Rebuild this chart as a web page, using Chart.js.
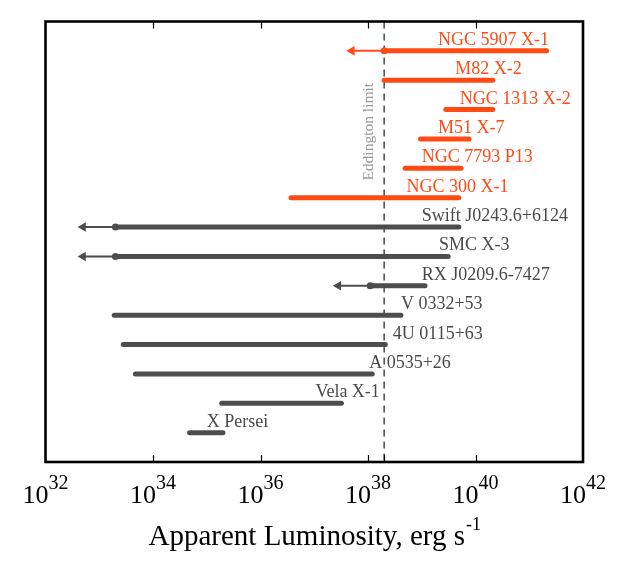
<!DOCTYPE html>
<html><head><meta charset="utf-8">
<script src="https://cdn.jsdelivr.net/npm/chart.js@4.4.1/dist/chart.umd.min.js"></script>
<style>html,body{margin:0;padding:0;background:#fff}#wrap{width:627px;height:574px}</style>
</head><body><div id="wrap"><canvas id="c" width="627" height="574"></canvas></div>
<script>
// ---- data ----
const sources = ['NGC 5907 X-1','M82 X-2','NGC 1313 X-2','M51 X-7','NGC 7793 P13','NGC 300 X-1',
  'Swift J0243.6+6124','SMC X-3','RX J0209.6-7427','V 0332+53','4U 0115+63','A 0535+26','Vela X-1','X Persei'];
const lowLum  = [2.0e38, 2.0e38, 2.8e39, 9.5e38, 4.9e38, 3.7e36, 2.0e33, 2.0e33, 1.1e38, 1.9e33, 2.8e33, 4.7e33, 1.9e35, 4.8e34];
const highLum = [2.1e41, 2.1e40, 2.1e40, 7.6e39, 5.4e39, 4.9e39, 4.9e39, 3.1e39, 1.15e39, 4.1e38, 2.1e38, 1.2e38, 3.2e37, 2.0e35];
const limitArrow = [5.0e37, null, null, null, null, null, 5.0e32, 5.0e32, 2.8e37, null, null, null, null, null];
const isULX = [true, true, true, true, true, true, false, false, false, false, false, false, false, false];
const labelAt = [2.0e39, 4.2e39, 5.1e39, 2.0e39, 1.0e39, 5.2e38, 1.0e39, 2.1e39, 1.0e39, 4.1e38, 2.9e38, 1.05e38, 1.05e37, 1.0e35];
const tickExponents = [32, 34, 36, 38, 40, 42];
const eddington = 2.0e38;
const eddingtonLabel = 'Eddington limit';
const axisTitle = 'Apparent Luminosity, erg s';
const axisTitleSup = '-1';

// ---- styles ----
const ORANGE = '#ff4a14';
const GRAY = '#4d4d4d';
const LABEL_GRAY = '#4a4a4a';
const FONT = '"Liberation Serif", "DejaVu Serif", serif';

const datasets = [];
sources.forEach((name, i) => {
  const row = i + 1;
  const col = isULX[i] ? ORANGE : GRAY;
  datasets.push({
    data: [{x: lowLum[i], y: row}, {x: highLum[i], y: row}],
    borderColor: col, borderWidth: 5, borderCapStyle: 'round',
    pointRadius: 0, showLine: true, clip: false
  });
  if (limitArrow[i] !== null) {
    datasets.push({
      data: [{x: limitArrow[i], y: row}, {x: lowLum[i], y: row}],
      borderColor: col, borderWidth: 2, showLine: true, clip: false,
      pointStyle: ['triangle', 'circle'], pointRadius: [5.5, 3.5], pointRotation: [-90, 0],
      pointBackgroundColor: col, pointBorderColor: col, pointBorderWidth: 0
    });
  }
});

const decor = {
  id: 'decor',
  beforeDatasetsDraw(chart) {
    const ctx = chart.ctx, a = chart.chartArea, x = chart.scales.x;
    const px = x.getPixelForValue(eddington);
    ctx.save();
    ctx.strokeStyle = '#555';
    ctx.lineWidth = 1.6;
    ctx.setLineDash([7, 5]);
    ctx.beginPath(); ctx.moveTo(px, a.top); ctx.lineTo(px, a.bottom); ctx.stroke();
    ctx.setLineDash([]);
    // label
    ctx.translate(px - 16, (a.top + a.bottom) / 2 - 110);
    ctx.rotate(-Math.PI / 2);
    ctx.fillStyle = '#9a9a9a';
    ctx.font = '15.5px ' + FONT;
    ctx.textAlign = 'center'; ctx.textBaseline = 'alphabetic';
    ctx.fillText(eddingtonLabel, 0, 5);
    ctx.restore();
  },
  afterDraw(chart) {
    const ctx = chart.ctx, a = chart.chartArea, x = chart.scales.x, y = chart.scales.y;
    ctx.save();
    // labels
    ctx.font = '18px ' + FONT;
    ctx.textAlign = 'left'; ctx.textBaseline = 'alphabetic';
    sources.forEach((name, i) => {
      ctx.fillStyle = isULX[i] ? ORANGE : LABEL_GRAY;
      ctx.fillText(name, x.getPixelForValue(labelAt[i]), y.getPixelForValue(i + 1) - 6);
    });
    // ticks
    ctx.strokeStyle = '#000'; ctx.lineWidth = 1.2;
    const inner = tickExponents.filter(e => e > 32 && e < 42).map(e => Math.pow(10, e));
    ctx.beginPath();
    inner.forEach(v => {
      const p = Math.round(x.getPixelForValue(v)) + 0.5;
      ctx.moveTo(p, a.bottom); ctx.lineTo(p, a.bottom - 7);
      ctx.moveTo(p, a.top); ctx.lineTo(p, a.top + 7);
    });
    const pe = Math.round(x.getPixelForValue(eddington)) + 0.5;
    ctx.moveTo(pe, a.bottom); ctx.lineTo(pe, a.bottom - 7);
    ctx.stroke();
    // frame
    ctx.lineWidth = 2.6;
    ctx.strokeRect(a.left, a.top, a.right - a.left, a.bottom - a.top);
    // tick labels
    ctx.fillStyle = '#000';
    tickExponents.forEach(e => {
      const p = x.getPixelForValue(Math.pow(10, e));
      ctx.font = '26px ' + FONT;
      const w1 = ctx.measureText('10').width;
      ctx.font = '20px ' + FONT;
      const w2 = ctx.measureText(String(e)).width;
      const start = p - (w1 + w2) / 2;
      ctx.font = '26px ' + FONT;
      ctx.fillText('10', start, 503);
      ctx.font = '20px ' + FONT;
      ctx.fillText(String(e), start + w1, 489);
    });
    // title
    ctx.font = '29px ' + FONT;
    const t1 = ctx.measureText(axisTitle).width;
    ctx.font = '18px ' + FONT;
    const t2 = ctx.measureText(axisTitleSup).width;
    const ts = (a.left + a.right) / 2 - (t1 + t2) / 2;
    ctx.font = '29px ' + FONT;
    ctx.fillText(axisTitle, ts, 545);
    ctx.font = '18px ' + FONT;
    ctx.fillText(axisTitleSup, ts + t1 + 1, 530);
    ctx.restore();
  }
};

new Chart(document.getElementById('c'), {
  type: 'scatter',
  data: { datasets },
  options: {
    responsive: false, animation: false, devicePixelRatio: 1,
    layout: { padding: { left: 45.5, top: 21.5, right: 44, bottom: 112 } },
    plugins: { legend: { display: false }, tooltip: { enabled: false } },
    scales: {
      x: { type: 'logarithmic', min: 1e32, max: 1e42, display: false },
      y: { type: 'linear', min: 0, max: 15, reverse: true, display: false }
    }
  },
  plugins: [decor]
});
</script>
</body></html>
